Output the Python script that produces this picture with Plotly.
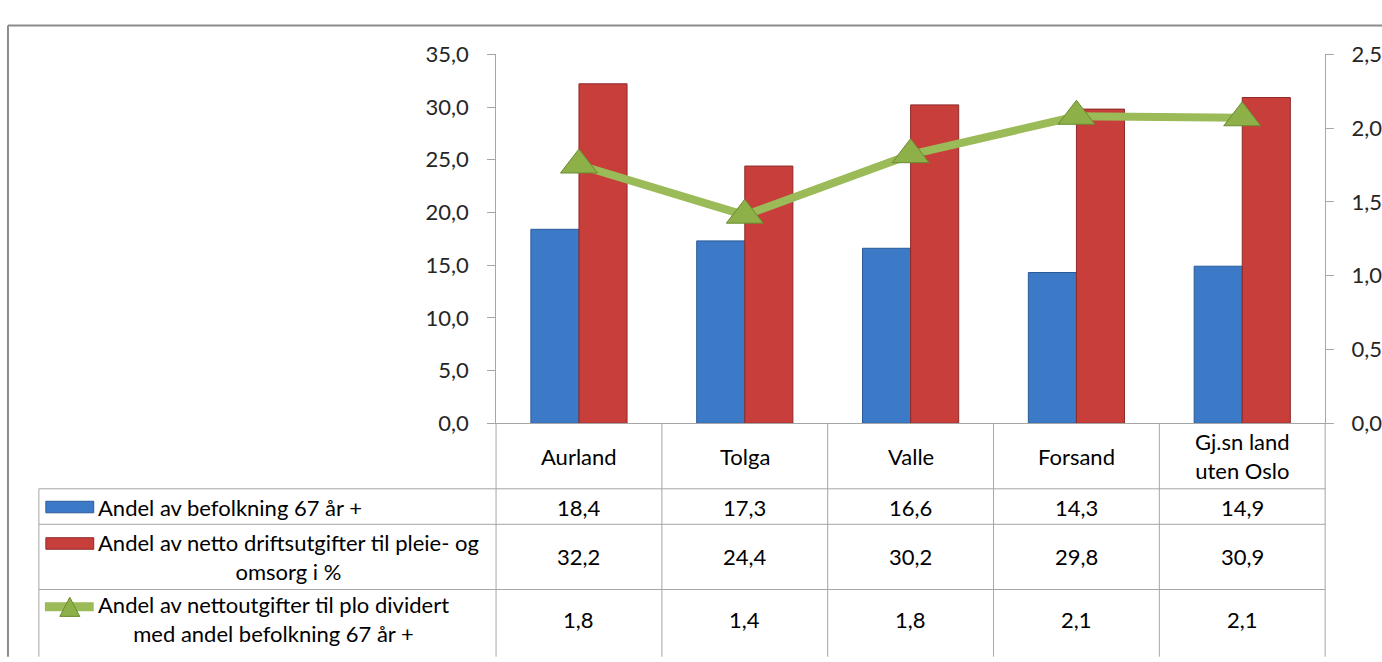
import plotly.graph_objects as go

kommuner = ['Aurland', 'Tolga', 'Valle', 'Forsand', 'Gj.sn land uten Oslo']
kommune_labels = ['Aurland', 'Tolga', 'Valle', 'Forsand', 'Gj.sn land<br>uten Oslo']
andel_67 = [18.4, 17.3, 16.6, 14.3, 14.9]
andel_plo = [32.2, 24.4, 30.2, 29.8, 30.9]
forhold = [1.75, 1.41, 1.82, 2.08, 2.07]

navn_67 = 'Andel av befolkning 67 år +'
navn_plo = 'Andel av netto driftsutgifter til pleie- og<br>omsorg i %'
navn_forhold = 'Andel av nettoutgifter til plo dividert<br>med andel befolkning 67 år +'

W, H = 1382, 662
FONT = 'Lato'
FS = 22
GRAY = '#a6a6a6'
BLUE, BLUE_EDGE = '#3c7ac7', '#2a5a98'
RED, RED_EDGE = '#c83e3b', '#8e2a28'
GREEN, GREEN_MARK, GREEN_EDGE = '#9bbb59', '#8db148', '#6a8a2e'


def px_x(v):
    return v / W


def px_y(v):
    return 1 - v / H


fig = go.Figure()
fig.add_trace(go.Bar(x=kommuner, y=andel_67, name=navn_67,
                     marker=dict(color=BLUE, line=dict(color=BLUE_EDGE, width=1))))
fig.add_trace(go.Bar(x=kommuner, y=andel_plo, name=navn_plo,
                     marker=dict(color=RED, line=dict(color=RED_EDGE, width=1))))
fig.add_trace(go.Scatter(x=kommuner, y=forhold, name=navn_forhold, yaxis='y2',
                         mode='lines+markers',
                         line=dict(color=GREEN, width=8),
                         marker=dict(symbol='triangle-up', size=32, color=GREEN_MARK,
                                     line=dict(color=GREEN_EDGE, width=1))))

shapes = []
# ytre ramme
shapes.append(dict(type='line', xref='paper', yref='paper', x0=px_x(8), x1=px_x(1400),
                   y0=px_y(12), y1=px_y(12), line=dict(color='#8c8c8c', width=2)))
shapes.append(dict(type='line', xref='paper', yref='paper', x0=px_x(8), x1=px_x(8),
                   y0=px_y(12), y1=px_y(670), line=dict(color='#8c8c8c', width=2)))
# datatabell
left, right = 497.5, 1329
step = (right - left) / len(kommuner)
for i in range(len(kommuner) + 1):
    c = left + i * step
    shapes.append(dict(type='line', xref='paper', yref='paper', x0=px_x(c), x1=px_x(c),
                       y0=px_y(427), y1=px_y(670), line=dict(color=GRAY, width=1)))
for r in [495, 532, 600]:
    shapes.append(dict(type='line', xref='paper', yref='paper', x0=px_x(39), x1=px_x(right),
                       y0=px_y(r), y1=px_y(r), line=dict(color=GRAY, width=1)))
shapes.append(dict(type='line', xref='paper', yref='paper', x0=px_x(39), x1=px_x(39),
                   y0=px_y(495), y1=px_y(670), line=dict(color=GRAY, width=1)))
# forklaringssymboler
shapes.append(dict(type='rect', xref='paper', yref='paper', x0=px_x(46), x1=px_x(94),
                   y0=px_y(520), y1=px_y(508), fillcolor=BLUE,
                   line=dict(color=BLUE_EDGE, width=1)))
shapes.append(dict(type='rect', xref='paper', yref='paper', x0=px_x(46), x1=px_x(94),
                   y0=px_y(558), y1=px_y(546), fillcolor=RED,
                   line=dict(color=RED_EDGE, width=1)))
shapes.append(dict(type='line', xref='paper', yref='paper', x0=px_x(45), x1=px_x(94),
                   y0=px_y(618), y1=px_y(618), line=dict(color=GREEN, width=9)))
shapes.append(dict(type='path', xref='paper', yref='paper',
                   path='M {} {} L {} {} L {} {} Z'.format(px_x(60), px_y(628), px_x(70), px_y(608),
                                                           px_x(80), px_y(628)),
                   fillcolor=GREEN_MARK, line=dict(color=GREEN_EDGE, width=1)))

annotations = []
for k, lab in zip(kommuner, kommune_labels):
    annotations.append(dict(x=k, xref='x', y=px_y(461), yref='paper', text=lab,
                            showarrow=False, font=dict(size=FS, color='#000000'),
                            yanchor='middle'))
rows = [(andel_67, 514), (andel_plo, 566), (forhold, 631)]
for vals, ry in rows:
    for k, v in zip(kommuner, vals):
        annotations.append(dict(x=k, xref='x', y=px_y(ry), yref='paper',
                                text=f'{v:.1f}'.replace('.', ','),
                                showarrow=False, font=dict(size=FS, color='#000000'),
                                yanchor='middle'))
for navn, ry in [(navn_67, 514), (navn_plo, 566), (navn_forhold, 631)]:
    annotations.append(dict(x=px_x(96), xref='paper', y=px_y(ry), yref='paper', text=navn,
                            showarrow=False, xanchor='left', yanchor='middle', align='center',
                            font=dict(size=FS, color='#000000')))

fig.update_layout(
    width=W, height=H,
    margin=dict(l=0, r=0, t=0, b=0),
    paper_bgcolor='white', plot_bgcolor='white',
    font=dict(family=FONT, size=FS, color='#000000'),
    separators=', ',
    showlegend=False,
    barmode='group', bargap=0.42, bargroupgap=0,
    xaxis=dict(domain=[px_x(left), px_x(right)], showticklabels=False, ticks='',
               showline=True, linecolor=GRAY, linewidth=1, showgrid=False,
               zeroline=False),
    yaxis=dict(domain=[px_y(426.7), px_y(42)], range=[0, 35], dtick=5, tickformat='.1f',
               showline=True, linecolor=GRAY, linewidth=1, ticks='outside', ticklen=8,
               tickcolor=GRAY, showgrid=False, zeroline=False, ticklabelstandoff=14,
               tickfont=dict(size=FS, color='#262626')),
    yaxis2=dict(overlaying='y', side='right', anchor='x', range=[0, 2.5], dtick=0.5,
                tickformat='.1f', showline=True, linecolor=GRAY, linewidth=1,
                ticks='outside', ticklen=8, tickcolor=GRAY, showgrid=False, zeroline=False,
                ticklabelstandoff=13, tickfont=dict(size=FS, color='#262626')),
    shapes=shapes,
    annotations=annotations,
)

fig.write_html('out.html', config=dict(displayModeBar=False),
               post_script="document.body.style.margin='0';document.body.style.overflow='hidden';")
